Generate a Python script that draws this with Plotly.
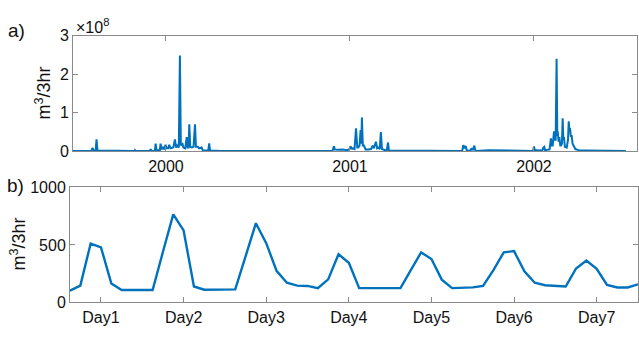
import plotly.graph_objects as go

# ---------------- data ----------------
# panel a: flow (x 1e8 m^3/3hr) vs decimal year
years_a = [
    1999.495, 1999.595, 1999.601, 1999.607, 1999.618, 1999.623, 1999.628,
    1999.830, 1999.832, 1999.835, 1999.912, 1999.917, 1999.922,
    1999.940, 1999.944, 1999.949, 1999.967, 1999.971, 1999.976,
    1999.985, 1999.990, 1999.998, 2000.003, 2000.012, 2000.018, 2000.025,
    2000.040, 2000.049, 2000.055, 2000.061, 2000.070, 2000.076, 2000.081,
    2000.089, 2000.095, 2000.105, 2000.113, 2000.118, 2000.123, 2000.127,
    2000.132, 2000.140, 2000.150, 2000.158, 2000.163, 2000.174, 2000.180,
    2000.194, 2000.200, 2000.230, 2000.235, 2000.240, 2000.300,
    2000.905, 2000.913, 2000.918, 2000.940, 2000.960, 2000.985, 2000.998,
    2001.004, 2001.010, 2001.013, 2001.025, 2001.033, 2001.040, 2001.045,
    2001.052, 2001.058, 2001.062, 2001.065, 2001.070, 2001.076, 2001.085,
    2001.099, 2001.115, 2001.123, 2001.130, 2001.141, 2001.148, 2001.154,
    2001.162, 2001.168, 2001.174, 2001.181, 2001.200, 2001.207, 2001.212,
    2001.610, 2001.616, 2001.622, 2001.629, 2001.635, 2001.655, 2001.661,
    2001.668, 2001.676, 2001.682, 2001.757, 2001.824,
    2001.995, 2002.000, 2002.005, 2002.011, 2002.045, 2002.051, 2002.056,
    2002.060, 2002.085, 2002.092, 2002.097, 2002.102, 2002.109, 2002.113,
    2002.118, 2002.123, 2002.127, 2002.129, 2002.134, 2002.138, 2002.143,
    2002.147, 2002.152, 2002.156, 2002.160, 2002.163, 2002.168, 2002.178,
    2002.185, 2002.189, 2002.193, 2002.196, 2002.200, 2002.205, 2002.210,
    2002.214, 2002.225, 2002.232, 2002.245, 2002.286, 2002.500,
]
flow_a_e8 = [
    0.01, 0.01, 0.09, 0.02, 0.02, 0.31, 0.02,
    0.01, 0.03, 0.01, 0.01, 0.06, 0.01,
    0.01, 0.20, 0.03, 0.03, 0.20, 0.05,
    0.12, 0.05, 0.17, 0.08, 0.08, 0.17, 0.08,
    0.10, 0.31, 0.10, 0.15, 0.10, 2.48, 0.15,
    0.22, 0.10, 0.08, 0.37, 0.10, 0.10, 0.70,
    0.12, 0.10, 0.12, 0.70, 0.12, 0.12, 0.08,
    0.10, 0.03, 0.02, 0.21, 0.02, 0.01,
    0.01, 0.13, 0.05, 0.04, 0.05, 0.03, 0.06,
    0.13, 0.06, 0.08, 0.06, 0.60, 0.10, 0.10,
    0.15, 0.55, 0.20, 0.88, 0.15, 0.15, 0.05,
    0.05, 0.06, 0.15, 0.08, 0.25, 0.08, 0.10,
    0.06, 0.50, 0.06, 0.05, 0.02, 0.23, 0.02,
    0.01, 0.16, 0.08, 0.14, 0.02, 0.02, 0.08,
    0.03, 0.15, 0.01, 0.03, 0.02,
    0.01, 0.13, 0.03, 0.03, 0.02, 0.10, 0.12,
    0.03, 0.05, 0.34, 0.15, 0.15, 0.52, 0.30,
    0.30, 2.40, 0.40, 0.52, 0.25, 0.37, 0.15,
    0.15, 0.20, 0.86, 0.30, 0.37, 0.12, 0.10,
    0.30, 0.78, 0.55, 0.60, 0.40, 0.40, 0.20,
    0.15, 0.06, 0.05, 0.02, 0.02, 0.01,
]
year_ticks = [2000, 2001, 2002]
year_labels = ["2000", "2001", "2002"]

# panel b: 3-hourly flow (m^3/3hr) over a week
flow_b = [
    102, 146, 512, 479, 165, 107, 107, 107, 107, 440, 766, 626, 138, 110,
    110, 112, 113, 400, 689, 515, 275, 171, 146, 143, 124, 200, 419, 345,
    124, 124, 124, 124, 124, 280, 435, 377, 198, 124, 127, 130, 143, 281,
    435, 446, 270, 171, 149, 146, 138, 295, 364, 292, 151, 130, 130, 157,
]
steps_b = list(range(len(flow_b)))
day_ticks = [3, 11, 19, 27, 35, 43, 51]
day_labels = ["Day1", "Day2", "Day3", "Day4", "Day5", "Day6", "Day7"]

# ---------------- figure ----------------
W, H = 639, 337
BLUE = "#0072BD"
AX = "#8a8a8a"
FAM = "Liberation Sans, Arial, sans-serif"
FONT = dict(family=FAM, size=16, color="#111")
TITLE_FONT = dict(family=FAM, size=18, color="#111")
PANEL_FONT = dict(family=FAM, size=19, color="#111")

def px_x(p):
    return p / W

def px_y(p):
    return 1 - p / H

fig = go.Figure()
fig.add_trace(go.Scatter(x=years_a, y=flow_a_e8, mode="lines",
                         line=dict(color=BLUE, width=2),
                         xaxis="x", yaxis="y", showlegend=False))
fig.add_trace(go.Scatter(x=steps_b, y=flow_b, mode="lines",
                         line=dict(color=BLUE, width=2.4),
                         xaxis="x2", yaxis="y2", showlegend=False))

common = dict(showgrid=False, zeroline=False, showline=True, linecolor=AX,
              linewidth=1, mirror="ticks", ticks="inside", ticklen=5,
              tickcolor=AX, tickwidth=1, tickfont=FONT)

fig.update_layout(
    width=W, height=H,
    margin=dict(l=0, r=0, t=0, b=0),
    paper_bgcolor="white", plot_bgcolor="white",
    font=FONT,
    xaxis=dict(domain=[px_x(73), px_x(637)], range=[1999.495, 2002.56],
               tickvals=year_ticks, ticktext=year_labels, anchor="y", **common),
    yaxis=dict(domain=[px_y(151), px_y(29)], range=[0, 3],
               tickvals=[0, 1, 2, 3], anchor="x", **common),
    xaxis2=dict(domain=[px_x(70), px_x(638)], range=[0, 55],
                tickvals=day_ticks, ticktext=day_labels, anchor="y2", **common),
    yaxis2=dict(domain=[px_y(310), px_y(189)], range=[0, 1000],
                tickvals=[0, 500, 1000], anchor="x2", **common),
)

ann = [
    dict(text="a)", x=px_x(16), y=px_y(24), font=PANEL_FONT),
    dict(text="b)", x=px_x(15), y=px_y(187), font=PANEL_FONT),
    dict(text="m<sup>3</sup>/3hr", x=px_x(43), y=px_y(90), textangle=-90, font=TITLE_FONT),
    dict(text="m<sup>3</sup>/3hr", x=px_x(18), y=px_y(249), textangle=-90, font=TITLE_FONT),
    dict(text="×10<sup>8</sup>", x=px_x(74), y=px_y(19), xanchor="left", font=FONT),
]
for a in ann:
    d = dict(xref="paper", yref="paper", showarrow=False,
             xanchor="center", yanchor="middle")
    d.update(a)
    fig.add_annotation(**d)

fig.write_html("out.html")
